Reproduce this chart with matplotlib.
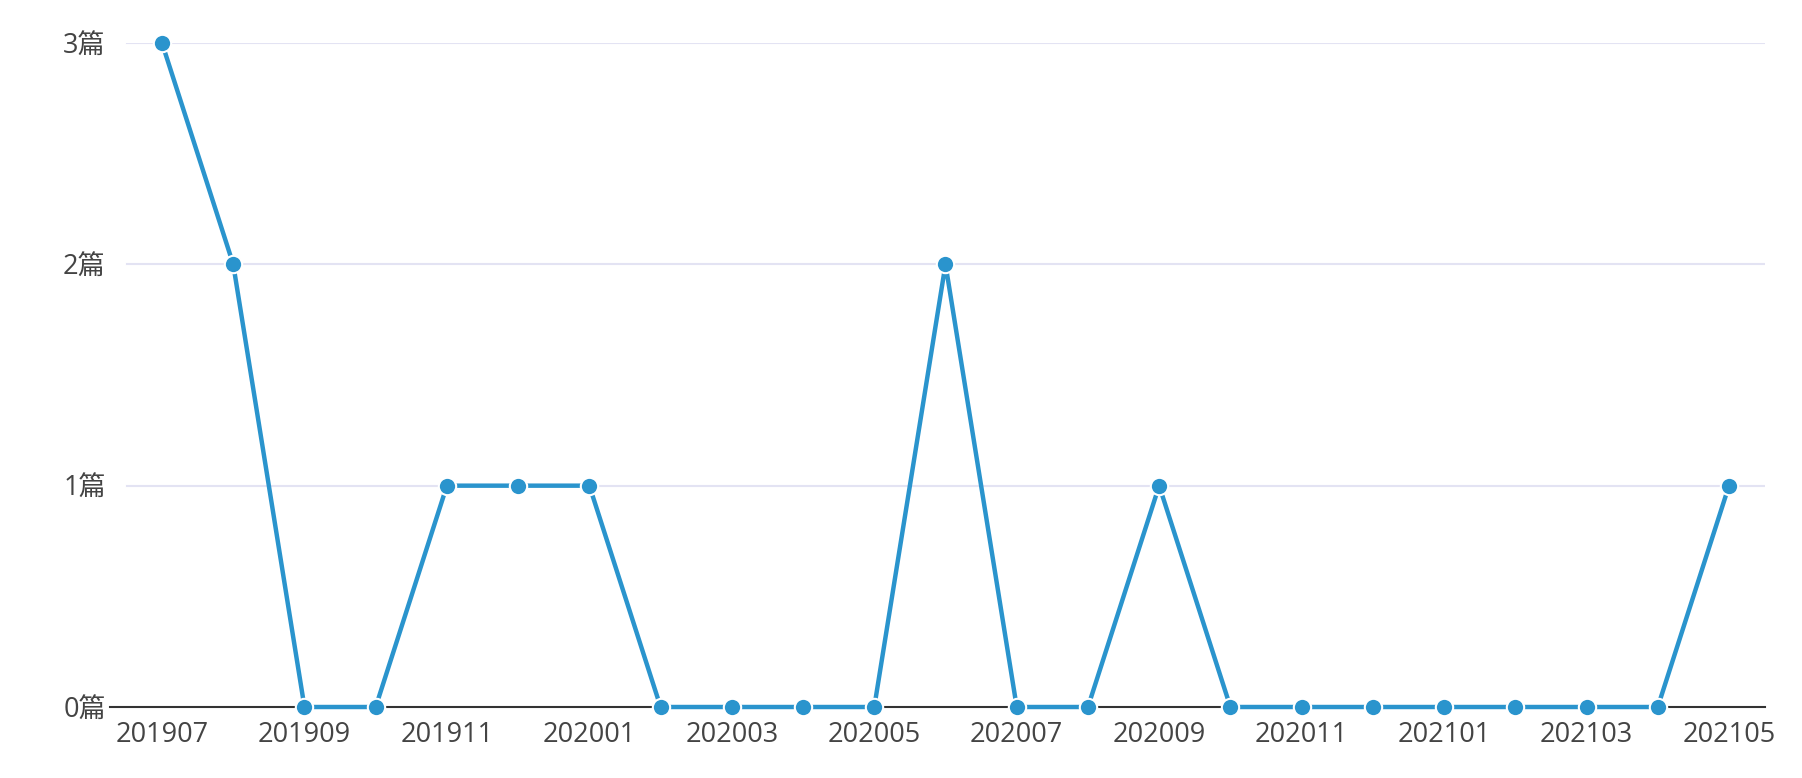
import matplotlib
matplotlib.use("Agg")
import matplotlib.pyplot as plt

plt.rcParams['font.family'] = ['Open Sans', 'Noto Sans CJK SC', 'DejaVu Sans']

months = ["201907", "201908", "201909", "201910", "201911", "201912", "202001", "202002",
          "202003", "202004", "202005", "202006", "202007", "202008", "202009", "202010",
          "202011", "202012", "202101", "202102", "202103", "202104", "202105"]
counts = [3, 2, 0, 0, 1, 1, 1, 0, 0, 0, 0, 2, 0, 0, 1, 0, 0, 0, 0, 0, 0, 0, 1]
y_ticks = [0, 1, 2, 3]
y_labels = ["0篇", "1篇", "2篇", "3篇"]

W, H = 1802, 778
fig = plt.figure(figsize=(W / 100, H / 100), dpi=100)
ax = fig.add_axes([110 / W, 1 - 707 / H, (1765 - 110) / W, (707 - 43) / H])

x = list(range(len(months)))
step = (1729 - 162) / 22
ax.set_xlim(-(162 - 110) / step, 22 + (1765 - 1729) / step)
ax.set_ylim(0, 3)

for v in y_ticks[1:]:
    ax.axhline(v, xmin=(127 - 110) / (1765 - 110), xmax=1, color='#e3e3f3', lw=1.5, zorder=1)

ax.plot(x, counts, color='#2a94cd', lw=3.2, zorder=3, clip_on=False,
        marker='o', markersize=12.5, markerfacecolor='#2a94cd',
        markeredgecolor='white', markeredgewidth=1.5)

for s in ['top', 'right', 'left']:
    ax.spines[s].set_visible(False)
ax.spines['bottom'].set_color('#333333')
ax.spines['bottom'].set_linewidth(1.5)
ax.spines['bottom'].set_zorder(2)

ax.set_yticks(y_ticks)
ax.set_yticklabels(y_labels)
ax.set_xticks(x[::2])
ax.set_xticklabels(months[::2])
ax.tick_params(axis='both', length=0, labelsize=19.5, labelcolor='#444444')
ax.tick_params(axis='y', pad=3)
ax.tick_params(axis='x', pad=10)

fig.savefig("out.png", dpi=100, facecolor='white')
